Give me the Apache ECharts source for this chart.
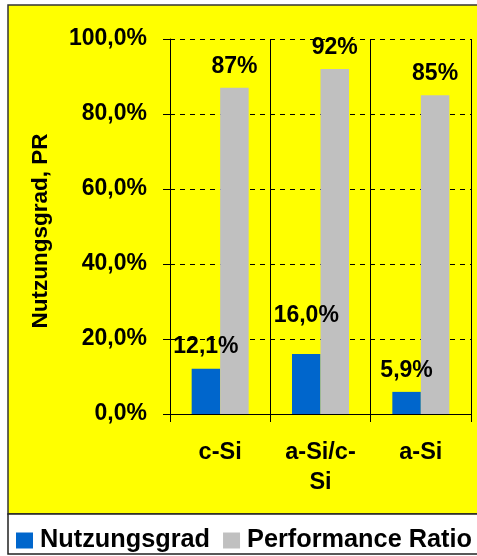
<!DOCTYPE html>
<html>
<head>
<meta charset="utf-8">
<script src="https://cdn.jsdelivr.net/npm/echarts@6/dist/echarts.min.js"></script>
<style>
  html, body { margin: 0; padding: 0; background: #ffffff; }
  #chart { width: 477px; height: 556px; }
</style>
</head>
<body>
<div id="chart"></div>
<script>
// Module technologies and their measured values (percent)
const categories = ['c-Si', 'a-Si/c-Si', 'a-Si'];
const nutzungsgrad = [12.1, 16.0, 5.9];
const performanceRatio = [87, 92, 85];
const seriesNames = ['Nutzungsgrad', 'Performance Ratio'];
const yTicks = [0, 20, 40, 60, 80, 100];

const FONT = '"Liberation Sans", Arial, sans-serif';
const BLUE = '#0066CC';
const GREY = '#C0C0C0';

const fmtPct1 = v => v.toFixed(1).replace('.', ',') + '%';
const fmtPct0 = v => Math.round(v) + '%';

const chart = echarts.init(document.getElementById('chart'), null, { renderer: 'canvas' });

chart.setOption({
  backgroundColor: '#ffffff',
  animation: false,
  graphic: [
    {
      type: 'rect', z: -10, silent: true,
      shape: { x: 8, y: 5, width: 475, height: 509 },
      style: { fill: '#FFFF00', stroke: '#333333', lineWidth: 1.5 }
    },
    {
      type: 'rect', z: -10, silent: true,
      shape: { x: 8, y: 514, width: 475, height: 40 },
      style: { fill: '#ffffff', stroke: '#222222', lineWidth: 1.5 }
    },
    {
      type: 'text', silent: true,
      x: 41, y: 231, rotation: Math.PI / 2,
      style: {
        text: 'Nutzungsgrad, PR',
        font: 'bold 22.5px ' + FONT,
        fill: '#000000',
        align: 'center',
        verticalAlign: 'middle'
      }
    }
  ],
  legend: {
    data: seriesNames,
    left: 16,
    top: 528,
    width: 600,
    itemWidth: 17,
    itemHeight: 16,
    itemGap: 13,
    icon: 'rect',
    textStyle: {
      fontFamily: FONT, fontWeight: 'bold', fontSize: 25.3, color: '#000000',
      padding: [0, 0, 0, 2]
    },
    padding: 0
  },
  grid: { left: 170, top: 39, right: 6, bottom: 142, containLabel: false },
  xAxis: {
    type: 'category',
    data: categories,
    boundaryGap: true,
    axisLine: { show: true, lineStyle: { color: '#000000', width: 1 } },
    axisTick: { show: true, length: 8, lineStyle: { color: '#000000', width: 1 } },
    splitLine: { show: true, lineStyle: { color: '#000000', width: 1, type: 'solid' } },
    axisLabel: {
      margin: 24,
      fontFamily: FONT, fontWeight: 'bold', fontSize: 23.5, color: '#000000',
      lineHeight: 30,
      formatter: v => v.replace('/c-', '/c-\n')
    }
  },
  yAxis: {
    type: 'value',
    min: yTicks[0],
    max: yTicks[yTicks.length - 1],
    interval: yTicks[1] - yTicks[0],
    axisLine: { show: true, lineStyle: { color: '#000000', width: 1 } },
    axisTick: { show: true, length: 7, lineStyle: { color: '#000000', width: 1 } },
    splitLine: { show: true, lineStyle: { color: '#000000', width: 1, type: [5, 5] } },
    axisLabel: {
      margin: 23,
      fontFamily: FONT, fontWeight: 'bold', fontSize: 23, color: '#000000',
      formatter: fmtPct1
    }
  },
  series: [
    {
      name: seriesNames[0],
      type: 'bar',
      barWidth: 28.5,
      barGap: '0%',
      itemStyle: { color: BLUE },
      data: nutzungsgrad.map((v, i) => ({
        value: v,
        label: { distance: i === 1 ? 27 : 10 }
      })),
      label: {
        show: true, position: 'top',
        fontFamily: FONT, fontWeight: 'bold', fontSize: 23, color: '#000000',
        formatter: p => fmtPct1(p.value)
      }
    },
    {
      name: seriesNames[1],
      type: 'bar',
      barWidth: 28.5,
      barGap: '0%',
      itemStyle: { color: GREY },
      data: performanceRatio,
      label: {
        show: true, position: 'top', distance: 10,
        fontFamily: FONT, fontWeight: 'bold', fontSize: 23, color: '#000000',
        formatter: p => fmtPct0(p.value)
      }
    }
  ]
});
</script>
</body>
</html>
